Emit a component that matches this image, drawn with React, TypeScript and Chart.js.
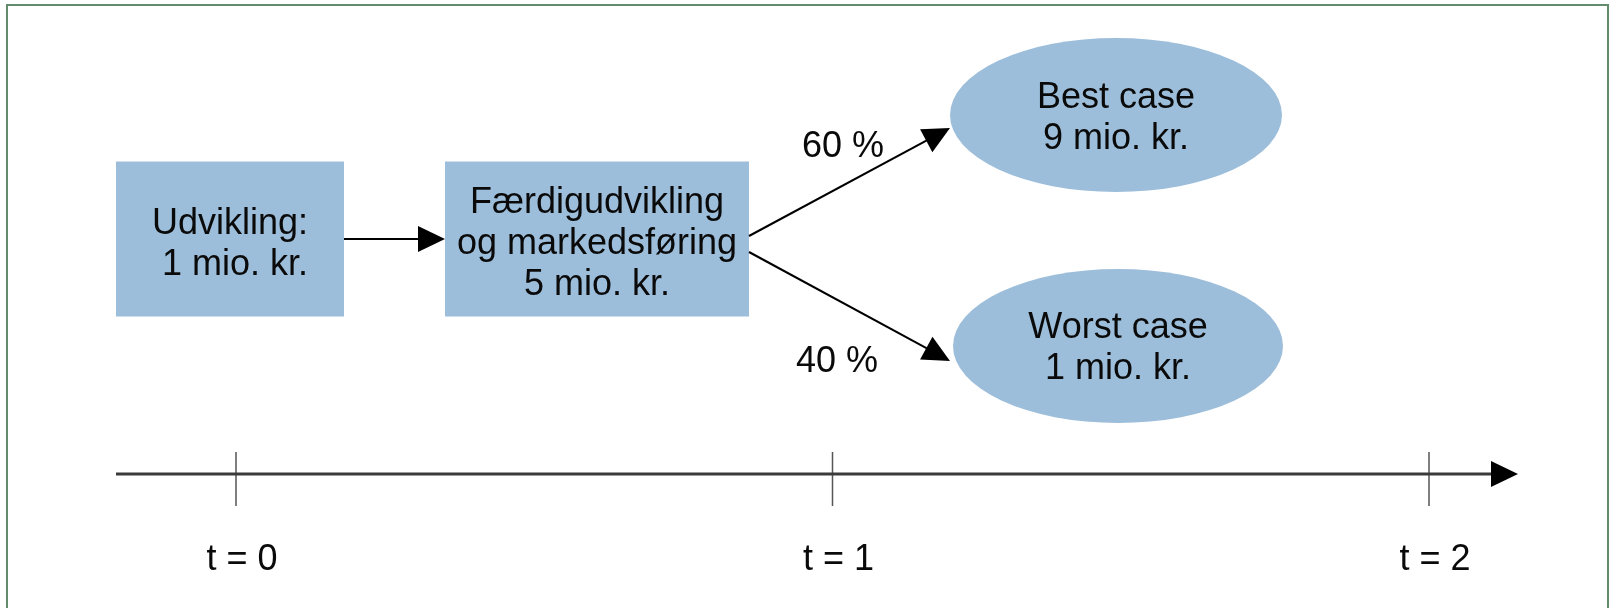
import React, { useEffect, useRef } from "react";
import { Chart, registerables } from "chart.js";

Chart.register(...registerables);

// ---- Diagram content ----
const nodeLabels: string[][] = [
  ["Udvikling:", " 1 mio. kr."],
  ["Færdigudvikling", "og markedsføring", "5 mio. kr."],
  ["Best case", "9 mio. kr."],
  ["Worst case", "1 mio. kr."],
];
const nodeShapes: string[] = ["rect", "rect", "ellipse", "ellipse"];

const edgeFrom: number[] = [0, 1, 1];
const edgeTo: number[] = [1, 2, 3];
const edgeLabels: string[] = ["", "60 %", "40 %"];

const timeTicks: number[] = [0, 1, 2];
const timeTickLabels: string[] = ["t = 0", "t = 1", "t = 2"];

// ---- Layout (diagram units on the chart's linear scales) ----
const nodeCenterX: number[] = [230, 597, 1116, 1118];
const nodeCenterY: number[] = [239, 239, 115, 346];
const nodeWidth: number[] = [228, 304, 332, 330];
const nodeHeight: number[] = [155, 155, 154, 154];
const nodeTextY: number[] = [245, 244, 119, 349];

const edgeStartX: number[] = [344, 749, 749];
const edgeStartY: number[] = [239, 236, 252];
const edgeEndX: number[] = [445, 950, 950];
const edgeEndY: number[] = [239, 128, 361];
const edgeLabelX: number[] = [0, 843, 837];
const edgeLabelY: number[] = [0, 147, 362];

const timeAxisY = 474;
const timeAxisStartX = 116;
const timeAxisEndX = 1518;
const tickTop = 452;
const tickBottom = 506;
const tickLabelY = 560;
const pxPerT = 596.5;
const t0X = 236;

const FONT = "36px 'Liberation Sans', Arial, Helvetica, sans-serif";
const FILL = "#9dbeda";
const INK = "#0a0a0a";

const tX = (t: number) => t0X + t * pxPerT;

function drawArrowHead(
  ctx: CanvasRenderingContext2D,
  fx: number,
  fy: number,
  tx: number,
  ty: number,
  len: number,
  half: number
) {
  const ang = Math.atan2(ty - fy, tx - fx);
  const bx = tx - len * Math.cos(ang);
  const by = ty - len * Math.sin(ang);
  const px = -Math.sin(ang);
  const py = Math.cos(ang);
  ctx.beginPath();
  ctx.moveTo(tx, ty);
  ctx.lineTo(bx + px * half, by + py * half);
  ctx.lineTo(bx - px * half, by - py * half);
  ctx.closePath();
  ctx.fill();
}

const diagramPlugin = {
  id: "diagram",
  beforeDatasetsDraw(chart: any) {
    const ctx: CanvasRenderingContext2D = chart.ctx;
    const xs = chart.scales.x;
    const ys = chart.scales.y;
    ctx.save();
    // frame
    ctx.strokeStyle = "#628c6c";
    ctx.lineWidth = 2;
    ctx.strokeRect(xs.getPixelForValue(7), ys.getPixelForValue(5), xs.getPixelForValue(1608) - xs.getPixelForValue(7), 700);
    // nodes
    ctx.fillStyle = FILL;
    nodeLabels.forEach((_, i) => {
      const cx = xs.getPixelForValue(nodeCenterX[i]);
      const cy = ys.getPixelForValue(nodeCenterY[i]);
      const w = xs.getPixelForValue(nodeCenterX[i] + nodeWidth[i] / 2) - xs.getPixelForValue(nodeCenterX[i] - nodeWidth[i] / 2);
      const h = Math.abs(ys.getPixelForValue(nodeCenterY[i] + nodeHeight[i] / 2) - ys.getPixelForValue(nodeCenterY[i] - nodeHeight[i] / 2));
      ctx.beginPath();
      if (nodeShapes[i] === "rect") {
        ctx.rect(cx - w / 2, cy - h / 2, w, h);
      } else {
        ctx.ellipse(cx, cy, w / 2, h / 2, 0, 0, Math.PI * 2);
      }
      ctx.fill();
    });
    ctx.restore();
  },
  afterDatasetsDraw(chart: any) {
    const ctx: CanvasRenderingContext2D = chart.ctx;
    const xs = chart.scales.x;
    const ys = chart.scales.y;
    ctx.save();
    ctx.fillStyle = "#000";
    // edge arrowheads
    edgeFrom.forEach((_, i) => {
      drawArrowHead(
        ctx,
        xs.getPixelForValue(edgeStartX[i]),
        ys.getPixelForValue(edgeStartY[i]),
        xs.getPixelForValue(edgeEndX[i]),
        ys.getPixelForValue(edgeEndY[i]),
        27,
        13
      );
    });
    // time axis arrowhead
    drawArrowHead(
      ctx,
      xs.getPixelForValue(timeAxisStartX),
      ys.getPixelForValue(timeAxisY),
      xs.getPixelForValue(timeAxisEndX),
      ys.getPixelForValue(timeAxisY),
      27,
      13
    );
    // texts
    ctx.font = FONT;
    ctx.fillStyle = INK;
    ctx.textAlign = "center";
    ctx.textBaseline = "middle";
    const lh = 41;
    nodeLabels.forEach((lines, i) => {
      const cx = xs.getPixelForValue(nodeCenterX[i]);
      const cy = ys.getPixelForValue(nodeTextY[i]);
      lines.forEach((ln, j) => {
        ctx.fillText(ln, cx, cy + (j - (lines.length - 1) / 2) * lh);
      });
    });
    edgeLabels.forEach((lb, i) => {
      if (!lb) return;
      ctx.fillText(lb, xs.getPixelForValue(edgeLabelX[i]), ys.getPixelForValue(edgeLabelY[i]));
    });
    timeTicks.forEach((t, i) => {
      ctx.fillText(timeTickLabels[i], xs.getPixelForValue(tX(t) + 6), ys.getPixelForValue(tickLabelY));
    });
    ctx.restore();
  },
};

export default function App() {
  const canvasRef = useRef<HTMLCanvasElement | null>(null);

  useEffect(() => {
    document.body.style.margin = "0";
    const canvas = canvasRef.current;
    if (!canvas) return;

    const edgeDatasets = edgeFrom.map((_, i) => {
      const ang = Math.atan2(edgeEndY[i] - edgeStartY[i], edgeEndX[i] - edgeStartX[i]);
      return {
        type: "scatter" as const,
        data: [
          { x: edgeStartX[i], y: edgeStartY[i] },
          { x: edgeEndX[i] - 20 * Math.cos(ang), y: edgeEndY[i] - 20 * Math.sin(ang) },
        ],
        showLine: true,
        borderColor: "#000000",
        borderWidth: 2,
        pointRadius: 0,
      };
    });

    const axisDataset = {
      type: "scatter" as const,
      data: [
        { x: timeAxisStartX, y: timeAxisY },
        { x: timeAxisEndX - 20, y: timeAxisY },
      ],
      showLine: true,
      borderColor: "#3a3a3a",
      borderWidth: 3,
      pointRadius: 0,
    };

    const tickDatasets = timeTicks.map((t) => ({
      type: "scatter" as const,
      data: [
        { x: tX(t), y: tickTop },
        { x: tX(t), y: tickBottom },
      ],
      showLine: true,
      borderColor: "#555555",
      borderWidth: 1.5,
      pointRadius: 0,
    }));

    const chart = new Chart(canvas, {
      type: "scatter",
      data: { datasets: [...edgeDatasets, axisDataset, ...tickDatasets] as any },
      options: {
        animation: false,
        responsive: false,
        devicePixelRatio: 1,
        layout: { padding: 0 },
        events: [],
        plugins: { legend: { display: false }, tooltip: { enabled: false } },
        scales: {
          x: { type: "linear", min: 0, max: 1610, display: false },
          y: { type: "linear", min: 0, max: 608, reverse: true, display: false },
        },
      },
      plugins: [diagramPlugin],
    });
    return () => chart.destroy();
  }, []);

  return (
    <div style={{ position: "absolute", left: 0, top: 0, width: 1610, height: 608, background: "#ffffff" }}>
      <canvas ref={canvasRef} width={1610} height={608} />
    </div>
  );
}
